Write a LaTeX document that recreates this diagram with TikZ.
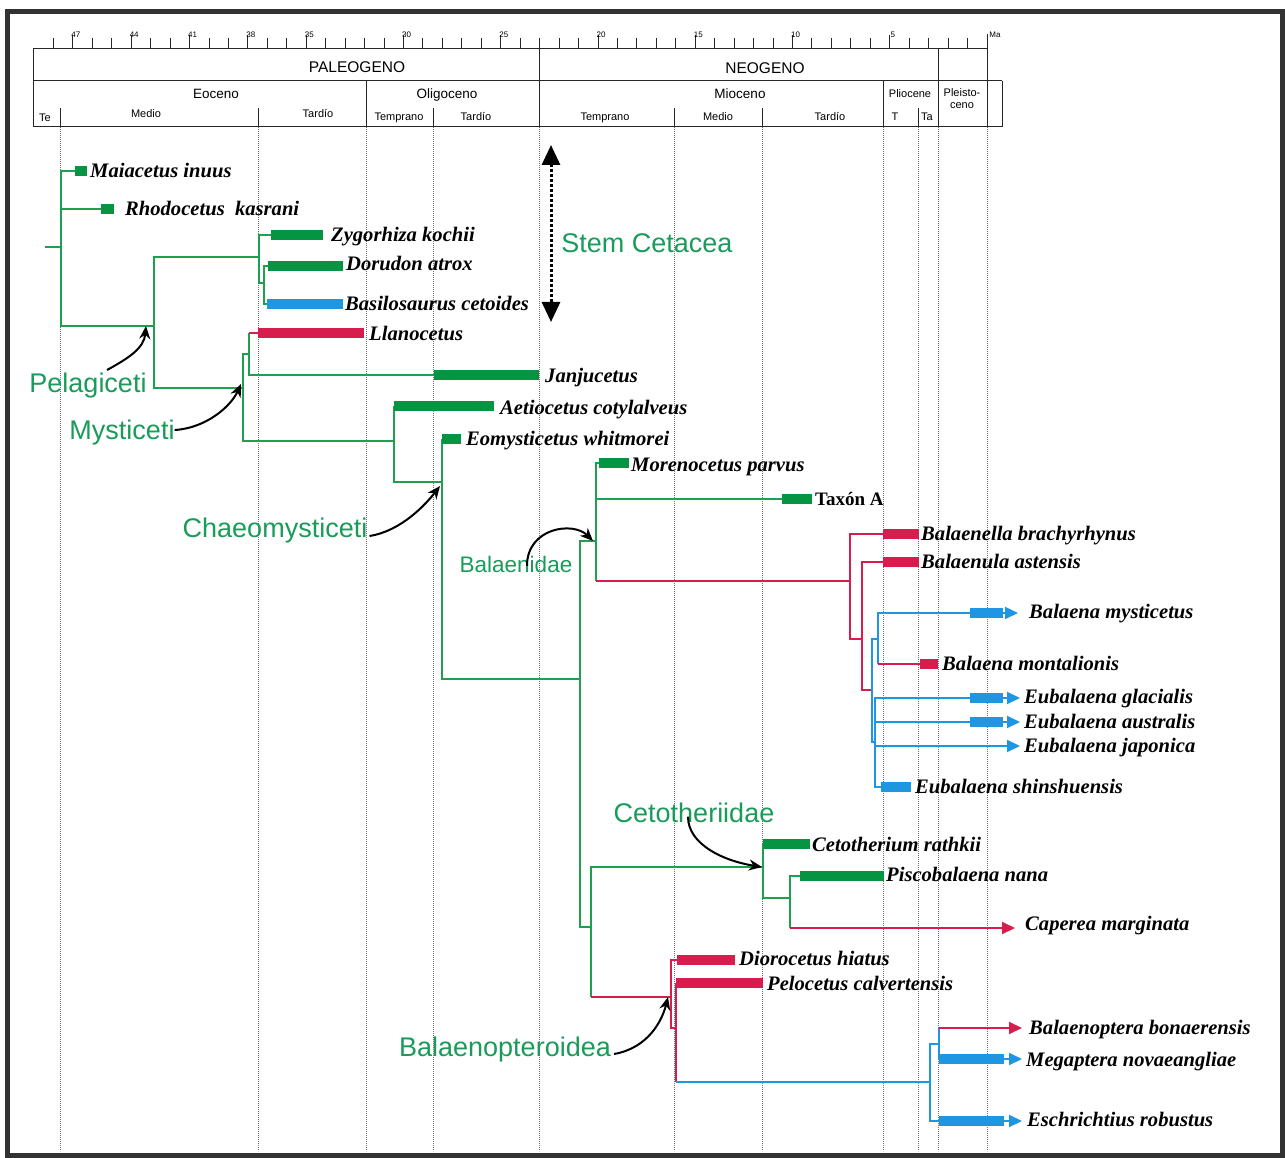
\documentclass[tikz,border=0pt]{standalone}
\usepackage{fontspec}
\setmainfont{Liberation Serif}
\setsansfont{Liberation Sans}
\usepackage{tikz}
\usetikzlibrary{arrows.meta}

\definecolor{ramaverde}{RGB}{30,160,80}
\definecolor{barraverde}{RGB}{5,148,66}
\definecolor{ramaroja}{RGB}{215,28,78}
\definecolor{ramaazul}{RGB}{30,150,225}
\definecolor{textoverde}{RGB}{25,155,90}
\definecolor{marco}{RGB}{50,50,50}

\begin{document}
\begin{tikzpicture}[x=1pt, y=-1pt,
    regla/.style={line width=1pt, black!85},
    guia/.style={black!55, line width=0.6pt, dash pattern=on 0.9pt off 1.1pt},
    era/.style={font=\sffamily\fontsize{15.5}{17}\selectfont, text height=11pt, text depth=0pt},
    epoca/.style={font=\sffamily\fontsize{13.5}{15}\selectfont, text height=9.5pt, text depth=0pt},
    piso/.style={font=\sffamily\fontsize{11}{12}\selectfont, text height=8pt, text depth=0pt},
    marca/.style={font=\sffamily\fontsize{8}{9}\selectfont, inner sep=0pt},
    rama/.style={line width=1.9pt, ramaverde},
    ramaR/.style={line width=1.9pt, ramaroja},
    ramaB/.style={line width=1.9pt, ramaazul},
    barra/.style={line width=9.5pt, barraverde},
    barraR/.style={line width=9.5pt, ramaroja},
    barraB/.style={line width=9.5pt, ramaazul},
    punta/.style={-{Triangle[length=13pt, width=12pt]}},
    taxon/.style={anchor=west, inner sep=0pt, text height=14pt, text depth=0pt,
      font=\fontsize{20.6}{23}\selectfont\bfseries\itshape},
    taxonR/.style={taxon, font=\fontsize{19}{22}\selectfont\bfseries},
    clado/.style={font=\sffamily\fontsize{27}{30}\selectfont, text=textoverde,
      text height=19pt, text depth=0pt, inner sep=0pt},
    flecha/.style={line width=2pt, -{Stealth[length=13pt, width=11pt]}}]

\useasboundingbox (0,0) rectangle (1285,1158);
\draw[marco, line width=5pt] (7.5,11.5) rectangle (1282.5,1155.5);

% guias punteadas de los limites
\foreach \gx in {60,258,366,433,539,674,762,883,918,938,987}
  \draw[guia] (\gx,127) -- (\gx,1151);

% escala de tiempo
\draw[regla] (33,49) -- (987,49);
\draw[regla] (33,81) -- (1002,81);
\draw[regla] (33,127) -- (1002,127);
\draw[regla] (33,49) -- (33,127);
\draw[regla] (539,49) -- (539,127);
\draw[regla] (938,49) -- (938,127);
\draw[regla] (987,34) -- (987,127);
\draw[regla] (1002,81) -- (1002,127);
\draw[regla] (366,81) -- (366,127);
\draw[regla] (883,81) -- (883,127);
\foreach \sx in {60,258,433,674,762,918}
  \draw[regla] (\sx,108) -- (\sx,127);
\foreach \t in {1,...,48}
  \draw[regla] ({987-19.45*\t},49) -- ({987-19.45*\t},38);
\foreach \t in {47,44,41,38,35,30,25,20,15,10,5} {
  \draw[regla] ({987-19.45*\t},38) -- ({987-19.45*\t},35);
  \node[marca] (t\t) at ({990-19.45*\t},35) {\t};
}
\node[marca] (ma) at (995,35) {Ma};

\node[era] (paleo) at (357,67) {PALEOGENO};
\node[era] (neo) at (765,68) {NEOGENO};
\node[epoca] (eoc) at (216,94) {Eoceno};
\node[epoca] (oli) at (447,94) {Oligoceno};
\node[epoca] (mio) at (740,94) {Mioceno};
\node[piso] (plio) at (910,94) {Pliocene};
\node[piso, align=center, text height=, text depth=] (pleis) at (962,99) {Pleisto-\\ceno};
\node[piso] (te) at (45,118) {Te};
\node[piso] (eoM) at (146,114) {Medio};
\node[piso] (eoT) at (318,114) {Tardío};
\node[piso] (olT1) at (399,117) {Temprano};
\node[piso] (olT2) at (476,117) {Tardío};
\node[piso] (miT1) at (605,117) {Temprano};
\node[piso] (miM) at (718,117) {Medio};
\node[piso] (miT2) at (830,117) {Tardío};
\node[piso] (plT) at (895,117) {T};
\node[piso] (plTa) at (927,117) {Ta};

% nodos internos del arbol
\coordinate (r0) at (45,247);
\coordinate (r1) at (61,247);
\coordinate (pel) at (154,326);
\coordinate (basil) at (259,257);
\coordinate (doru) at (264,283);
\coordinate (myst) at (243,388);
\coordinate (llano) at (249,354);
\coordinate (aet) at (394,441);
\coordinate (chaeo) at (442,482);
\coordinate (crown) at (580,679);
\coordinate (balaen) at (596,541);
\coordinate (balR) at (850,581);
\coordinate (balR2) at (862,639);
\coordinate (balR3) at (872,690);
\coordinate (balaena) at (878,639);
\coordinate (eubal) at (875,742);
\coordinate (cetoO) at (591,927);
\coordinate (ceto) at (763,867);
\coordinate (pisco) at (790,898);
\coordinate (balop) at (671,997);
\coordinate (balop2) at (676,1028);
\coordinate (rorq) at (930,1082);
\coordinate (rorq2) at (939,1044);

% extremos de las barras
\path (75,171) coordinate (maia-b) (87,171) coordinate (maia-e);
\path (101,209) coordinate (rhodo-b) (114,209) coordinate (rhodo-e);
\path (271,235) coordinate (zygo-b) (323,235) coordinate (zygo-e);
\path (268,266) coordinate (dorud-b) (343,266) coordinate (dorud-e);
\path (267,304) coordinate (basilo-b) (343,304) coordinate (basilo-e);
\path (258,333) coordinate (llanoc-b) (364,333) coordinate (llanoc-e);
\path (434,375) coordinate (janju-b) (539,375) coordinate (janju-e);
\path (394,406) coordinate (aetio-b) (494,406) coordinate (aetio-e);
\path (442,439) coordinate (eomy-b) (461,439) coordinate (eomy-e);
\path (599,463) coordinate (moreno-b) (629,463) coordinate (moreno-e);
\path (782,499) coordinate (taxa-b) (812,499) coordinate (taxa-e);
\path (883,534) coordinate (bnella-b) (919,534) coordinate (bnella-e);
\path (883,562) coordinate (bnula-b) (919,562) coordinate (bnula-e);
\path (970,613) coordinate (bmyst-b) (1003,613) coordinate (bmyst-e) (1018,613) coordinate (bmyst-t);
\path (920,664) coordinate (bmont-b) (938,664) coordinate (bmont-e);
\path (970,698) coordinate (eglac-b) (1003,698) coordinate (eglac-e) (1020,698) coordinate (eglac-t);
\path (970,722) coordinate (eaust-b) (1003,722) coordinate (eaust-e) (1020,722) coordinate (eaust-t);
\path (1020,746) coordinate (ejapo-t);
\path (881,787) coordinate (eshin-b) (911,787) coordinate (eshin-e);
\path (763,844) coordinate (cetot-b) (810,844) coordinate (cetot-e);
\path (800,876) coordinate (piscob-b) (884,876) coordinate (piscob-e);
\path (1015,928) coordinate (caper-t);
\path (677,960) coordinate (dioro-b) (735,960) coordinate (dioro-e);
\path (676,983) coordinate (peloc-b) (763,983) coordinate (peloc-e);
\path (1022,1028) coordinate (bbon-t);
\path (939,1059) coordinate (megap-b) (1004,1059) coordinate (megap-e) (1022,1059) coordinate (megap-t);
\path (939,1121) coordinate (eschr-b) (1004,1121) coordinate (eschr-e) (1022,1121) coordinate (eschr-t);

% cetaceos basales
\draw[rama] (r0) -- (r1);
\draw[rama] (r1) |- (maia-b);
\draw[rama] (r1) |- (rhodo-b);
\draw[rama] (r1) |- (pel);
\draw[rama] (pel) |- (basil);
\draw[rama] (pel) |- (myst);
\draw[rama] (basil) |- (zygo-b);
\draw[rama] (basil) |- (doru);
\draw[rama] (doru) |- (dorud-b);
\draw[rama] (doru) |- (basilo-b);

% misticetos
\draw[rama] (myst) |- (llano);
\draw[rama] (llano) -- (llano |- llanoc-b);
\draw[ramaR] (llano |- llanoc-b) -- (llanoc-b);
\draw[rama] (llano) |- (janju-b);
\draw[rama] (myst) |- (aet);
\draw[rama] (aet) -- (aetio-b);
\draw[rama] (aet) |- (chaeo);
\draw[rama] (chaeo) |- (eomy-b);
\draw[rama] (chaeo) |- (crown);
\draw[rama] (crown) |- (balaen);
\draw[rama] (crown) |- (cetoO);

% Balaenidae
\draw[rama] (balaen) |- (moreno-b);
\draw[rama] (balaen) |- (taxa-b);
\draw[rama] (balaen) -- (balaen |- balR);
\draw[ramaR] (balaen |- balR) -- (balR);
\draw[ramaR] (balR) |- (bnella-b);
\draw[ramaR] (balR) |- (balR2);
\draw[ramaR] (balR2) |- (bnula-b);
\draw[ramaR] (balR2) |- (balR3);
\draw[ramaB] (balR3) |- (balaena);
\draw[ramaB] (balR3) |- (eubal);
\draw[ramaB, punta] (balaena) |- (bmyst-t);
\draw[ramaB] (balaena) -- (balaena |- bmont-b);
\draw[ramaR] (balaena |- bmont-b) -- (bmont-b);
\draw[ramaB, punta] (eubal) |- (eglac-t);
\draw[ramaB, punta] (eubal) |- (eaust-t);
\draw[ramaB, punta] (eubal) |- (ejapo-t);
\draw[ramaB] (eubal) |- (eshin-b);

% Cetotheriidae
\draw[rama] (cetoO) |- (ceto);
\draw[rama] (cetoO) -- (cetoO |- balop);
\draw[rama] (ceto) -- (cetot-b);
\draw[rama] (ceto) |- (pisco);
\draw[rama] (pisco) |- (piscob-b);
\draw[rama] (pisco) -- (pisco |- caper-t);
\draw[ramaR, punta] (pisco |- caper-t) -- (caper-t);

% Balaenopteroidea
\draw[ramaR] (cetoO |- balop) -- (balop);
\draw[ramaR] (balop) |- (dioro-b);
\draw[ramaR] (balop) |- (balop2);
\draw[ramaR] (balop2) -- (peloc-b);
\draw[ramaR] (balop2) -- (balop2 |- rorq);
\draw[ramaB] (balop2 |- rorq) -- (rorq);
\draw[ramaB] (rorq) |- (rorq2);
\draw[ramaB, punta] (rorq) |- (eschr-t);
\draw[ramaB] (rorq2) -- (rorq2 |- bbon-t);
\draw[ramaR, punta] (rorq2 |- bbon-t) -- (bbon-t);
\draw[ramaB, punta] (rorq2) |- (megap-t);

% barras de registro
\draw[barra] (maia-b) -- (maia-e);
\draw[barra] (rhodo-b) -- (rhodo-e);
\draw[barra] (zygo-b) -- (zygo-e);
\draw[barra] (dorud-b) -- (dorud-e);
\draw[barraB] (basilo-b) -- (basilo-e);
\draw[barraR] (llanoc-b) -- (llanoc-e);
\draw[barra] (janju-b) -- (janju-e);
\draw[barra] (aetio-b) -- (aetio-e);
\draw[barra] (eomy-b) -- (eomy-e);
\draw[barra] (moreno-b) -- (moreno-e);
\draw[barra] (taxa-b) -- (taxa-e);
\draw[barraR] (bnella-b) -- (bnella-e);
\draw[barraR] (bnula-b) -- (bnula-e);
\draw[barraB] (bmyst-b) -- (bmyst-e);
\draw[barraR] (bmont-b) -- (bmont-e);
\draw[barraB] (eglac-b) -- (eglac-e);
\draw[barraB] (eaust-b) -- (eaust-e);
\draw[barraB] (eshin-b) -- (eshin-e);
\draw[barra] (cetot-b) -- (cetot-e);
\draw[barra] (piscob-b) -- (piscob-e);
\draw[barraR] (dioro-b) -- (dioro-e);
\draw[barraR] (peloc-b) -- (peloc-e);
\draw[barraB] (megap-b) -- (megap-e);
\draw[barraB] (eschr-b) -- (eschr-e);

% nombres de los taxones
\node[taxon] (maia) at (90,171) {Maiacetus inuus};
\node[taxon] (rhodo) at (125,209) {Rhodocetus\ \ kasrani};
\node[taxon] (zygo) at (331,235) {Zygorhiza kochii};
\node[taxon] (dorud) at (346,264) {Dorudon atrox};
\node[taxon] (basilo) at (345,304) {Basilosaurus cetoides};
\node[taxon] (llanoc) at (369,333) {Llanocetus};
\node[taxon] (janju) at (545,375) {Janjucetus};
\node[taxon] (aetio) at (500,407) {Aetiocetus cotylalveus};
\node[taxon] (eomy) at (466,438) {Eomysticetus whitmorei};
\node[taxon] (moreno) at (631,464) {Morenocetus parvus};
\node[taxonR] (taxa) at (815,498) {Taxón A};
\node[taxon] (bnella) at (921,533) {Balaenella brachyrhynus};
\node[taxon] (bnula) at (921,561) {Balaenula astensis};
\node[taxon] (bmyst) at (1029,611) {Balaena mysticetus};
\node[taxon] (bmont) at (942,663) {Balaena montalionis};
\node[taxon] (eglac) at (1024,696) {Eubalaena glacialis};
\node[taxon] (eaust) at (1024,721) {Eubalaena australis};
\node[taxon] (ejapo) at (1024,745) {Eubalaena japonica};
\node[taxon] (eshin) at (915,786) {Eubalaena shinshuensis};
\node[taxon] (cetot) at (812,844) {Cetotherium rathkii};
\node[taxon] (piscob) at (886,874) {Piscobalaena nana};
\node[taxon] (caper) at (1025,923) {Caperea marginata};
\node[taxon] (dioro) at (739,958) {Diorocetus hiatus};
\node[taxon] (peloc) at (767,983) {Pelocetus calvertensis};
\node[taxon] (bbon) at (1029,1027) {Balaenoptera bonaerensis};
\node[taxon] (megap) at (1026,1059) {Megaptera novaeangliae};
\node[taxon] (eschr) at (1027,1119) {Eschrichtius robustus};

% grupos y flechas
\node[clado] (pelag) at (88,383) {Pelagiceti};
\node[clado] (mystl) at (122,430) {Mysticeti};
\node[clado] (chaeol) at (275,528) {Chaeomysticeti};
\node[clado, font=\sffamily\fontsize{22.5}{25}\selectfont, text height=16pt] (balael) at (516,564) {Balaenidae};
\node[clado] (cetol) at (694,813) {Cetotheriidae};
\node[clado] (balopl) at (505,1047) {Balaenopteroidea};
\node[clado] (steml) at (647,243) {Stem Cetacea};

\coordinate (stem-top) at (551,145);
\coordinate (stem-bot) at (551,322);
\draw[line width=3pt, dash pattern=on 2.4pt off 2.6pt,
  {Triangle[length=20pt, width=18pt]}-{Triangle[length=20pt, width=18pt]}] (stem-top) -- (stem-bot);

\draw[flecha] ([xshift=19pt, yshift=13pt]pelag.center) .. controls +(22,-12) and +(-2,22) .. ([xshift=-8pt]pel);
\draw[flecha] (mystl.east) .. controls +(32,-2) and +(-10,22) .. ([xshift=-2pt, yshift=4pt]myst);
\draw[flecha] ([xshift=2pt, yshift=-8pt]chaeol.east) .. controls +(32,-5) and +(-14,18) .. ([xshift=-2pt, yshift=-4pt]chaeo);
\draw[flecha] ([xshift=11pt, yshift=-10pt]balael.north) .. controls +(0,-38) and +(-20,-20) .. ([xshift=-3pt]balaen);
\draw[flecha] ([xshift=-6pt, yshift=6pt]cetol.south) .. controls +(0,28) and +(-38,-6) .. ([xshift=-1pt]ceto);
\draw[flecha] ([xshift=3pt, yshift=-7pt]balopl.east) .. controls +(34,-6) and +(-6,24) .. ([xshift=-3pt]balop);

\end{tikzpicture}
\end{document}
